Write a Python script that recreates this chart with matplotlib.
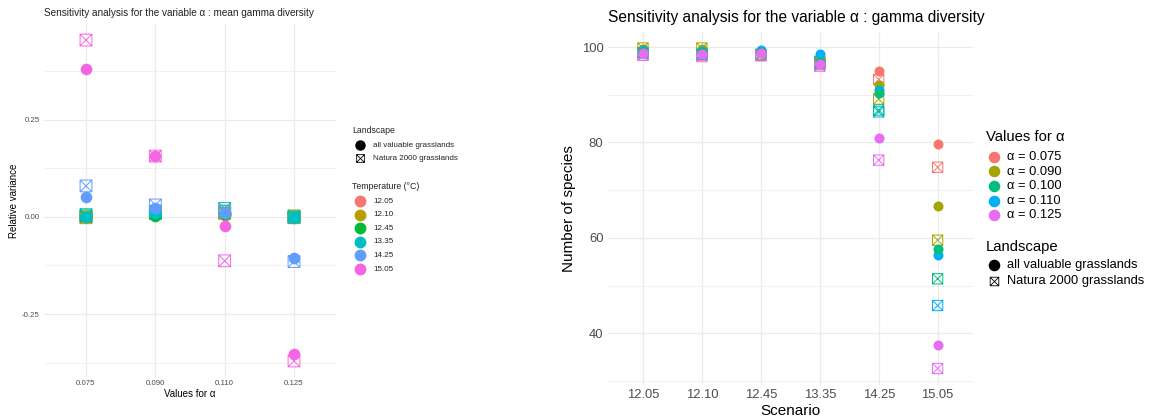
import matplotlib
matplotlib.use("Agg")
import matplotlib.pyplot as plt
from matplotlib.path import Path

plt.rcParams['font.family'] = ['Liberation Sans', 'DejaVu Sans']

# left panel: relative variance of mean gamma diversity, one row per temperature
alpha_labels = ['0.075', '0.090', '0.110', '0.125']
temp_labels = ['12.05', '12.10', '12.45', '13.35', '14.25', '15.05']
temp_colors = ['#F8766D', '#B79F00', '#00BA38', '#00BFC4', '#619CFF', '#F564E3']
var_all = [
    [0.000, 0.005, 0.005, -0.003],
    [0.000, 0.005, 0.005, 0.000],
    [0.000, 0.003, 0.008, 0.000],
    [0.000, 0.010, 0.010, 0.000],
    [0.052, 0.023, 0.010, -0.105],
    [0.381, 0.157, -0.023, -0.353],
]
var_natura = [
    [-0.002, 0.010, 0.010, -0.002],
    [0.000, 0.010, 0.010, 0.003],
    [0.003, 0.010, 0.015, 0.000],
    [0.006, 0.015, 0.022, 0.000],
    [0.080, 0.031, 0.015, -0.115],
    [0.456, 0.157, -0.113, -0.371],
]

# right panel: number of species per scenario, one row per alpha value
scenarios = ['12.05', '12.10', '12.45', '13.35', '14.25', '15.05']
alpha_names = ['α = 0.075', 'α = 0.090', 'α = 0.100', 'α = 0.110', 'α = 0.125']
alpha_colors = ['#F8766D', '#A3A500', '#00BF7D', '#00B0F6', '#E76BF3']
species_all = [
    [99.5, 99.3, 98.8, 97.5, 95.0, 79.7],
    [99.6, 99.6, 98.9, 97.6, 92.0, 66.7],
    [99.2, 98.9, 99.0, 96.9, 90.4, 57.7],
    [99.4, 99.2, 99.3, 98.6, 91.0, 56.4],
    [98.8, 98.6, 98.7, 96.5, 81.0, 37.5],
]
species_natura = [
    [98.3, 98.3, 98.2, 96.3, 93.2, 74.8],
    [99.8, 99.8, 98.5, 97.0, 89.1, 59.5],
    [98.8, 98.5, 98.3, 96.5, 86.8, 51.4],
    [98.8, 98.5, 98.3, 96.8, 86.4, 45.8],
    [98.3, 98.0, 98.2, 96.0, 76.3, 32.6],
]
landscape_names = ['all valuable grasslands', 'Natura 2000 grasslands']

# square with a cross in it, like ggplot shape 7
box_x = Path([(-1, -1), (1, -1), (1, 1), (-1, 1), (-1, -1),
              (-1, -1), (1, 1), (-1, 1), (1, -1)],
             [Path.MOVETO, Path.LINETO, Path.LINETO, Path.LINETO, Path.CLOSEPOLY,
              Path.MOVETO, Path.LINETO, Path.MOVETO, Path.LINETO])

GRID = '#EBEBEB'
TICK = '#4D4D4D'

W, H = 1150, 419


def px_axes(fig, left, right, top, bottom):
    return fig.add_axes([left / W, 1 - bottom / H, (right - left) / W, (bottom - top) / H])


def expand(lo, hi, f=0.05):
    d = (hi - lo) * f
    return lo - d, hi + d


def style_axes(ax, ticksize):
    for s in ax.spines.values():
        s.set_visible(False)
    ax.set_axisbelow(True)
    ax.tick_params(length=0, labelsize=ticksize, labelcolor=TICK)
    ax.grid(True, which='major', color=GRID, lw=0.9)
    ax.grid(True, which='minor', axis='y', color=GRID, lw=0.5)
    ax.tick_params(which='minor', length=0)


def legend_block(lg, x, y, title, labels, colors, shapes, step, tsize, lsize,
                 msize, title_gap, text_dx, color='black'):
    # ggplot-like guide: title on top, key + label rows below
    lg.text(x, y, title, fontsize=tsize, va='center', ha='left', color=color)
    for k, lab in enumerate(labels):
        yy = y + title_gap + k * step
        if shapes[k] == 'box':
            lg.plot([x + 8], [yy], ls='', marker=box_x, markersize=msize * 0.85,
                    markerfacecolor='none', markeredgecolor=colors[k],
                    markeredgewidth=0.6)
        else:
            lg.plot([x + 8], [yy], ls='', marker='o', markersize=msize,
                    color=colors[k])
        lg.text(x + 8 + text_dx, yy, lab, fontsize=lsize, va='center',
                ha='left', color=color)


fig = plt.figure(figsize=(W / 100, H / 100), dpi=100)

# ---- left panel
ax1 = px_axes(fig, 44.4, 335.6, 24, 377)
flat = [v for row in var_all + var_natura for v in row]
ax1.set_ylim(*expand(min(flat), max(flat)))
ax1.set_xlim(-0.6, len(alpha_labels) - 0.4)
xs = list(range(len(alpha_labels)))
for i in range(len(temp_labels)):
    ax1.scatter(xs, var_natura[i], marker=box_x, s=72, facecolors='none',
                edgecolors=temp_colors[i], linewidths=0.7, zorder=3)
    ax1.scatter(xs, var_all[i], marker='o', s=70, color=temp_colors[i],
                linewidths=0, zorder=3)
ax1.set_xticks(xs, alpha_labels)
ax1.set_yticks([-0.25, 0, 0.25], ['-0.25', '0.00', '0.25'])
ax1.set_yticks([-0.375, -0.125, 0.125, 0.375], minor=True)
style_axes(ax1, 5.7)
ax1.tick_params(axis='x', pad=2.5)
ax1.tick_params(axis='y', pad=3.5)
ax1.set_xlabel('Values for α', fontsize=7, labelpad=1)
ax1.set_ylabel('Relative variance', fontsize=7, labelpad=2)
ax1.set_title('Sensitivity analysis for the variable α : mean gamma diversity',
              fontsize=7.2, loc='left', pad=6, color='#222222')

# ---- right panel
ax2 = px_axes(fig, 607.6, 973, 32, 384.5)
flat2 = [v for row in species_all + species_natura for v in row]
ax2.set_ylim(*expand(min(flat2), max(flat2)))
ax2.set_xlim(-0.6, len(scenarios) - 0.4)
xs2 = list(range(len(scenarios)))
draw_order = [0, 1, 3, 2, 4]
for i in draw_order:
    ax2.scatter(xs2, species_natura[i], marker=box_x, s=55, facecolors='none',
                edgecolors=alpha_colors[i], linewidths=0.7, zorder=3)
for i in draw_order:
    ax2.scatter(xs2, species_all[i], marker='o', s=52, color=alpha_colors[i],
                linewidths=0, zorder=3)
ax2.set_xticks(xs2, scenarios)
ax2.set_yticks([40, 60, 80, 100])
ax2.set_yticks([30, 50, 70, 90], minor=True)
style_axes(ax2, 9.4)
ax2.tick_params(axis='x', pad=3.5)
ax2.tick_params(axis='y', pad=3)
ax2.set_xlabel('Scenario', fontsize=11, labelpad=2)
ax2.set_ylabel('Number of species', fontsize=11, labelpad=4)
ax2.set_title('Sensitivity analysis for the variable α : gamma diversity',
              fontsize=11.2, loc='left', pad=7)

# ---- legends, drawn on a pixel-space overlay
lg = fig.add_axes([0, 0, 1, 1])
lg.set_xlim(0, W)
lg.set_ylim(H, 0)
lg.axis('off')

legend_block(lg, 352, 130, 'Landscape', landscape_names, ['black', 'black'],
             ['o', 'box'], 13.5, 6.3, 5.8, 6.5, 15, 13, color='#222222')
legend_block(lg, 352, 186, 'Temperature (°C)', temp_labels, temp_colors,
             ['o'] * len(temp_labels), 13.6, 6.3, 5.8, 7.5, 15, 13,
             color='#222222')
legend_block(lg, 986, 137, 'Values for α', alpha_names, alpha_colors,
             ['o'] * len(alpha_names), 14.5, 10.7, 9.3, 7.3, 20, 13)
legend_block(lg, 986, 247, 'Landscape', landscape_names, ['black', 'black'],
             ['o', 'box'], 15.5, 10.7, 9.3, 7.3, 18, 13)

fig.savefig('out.png', dpi=100)
